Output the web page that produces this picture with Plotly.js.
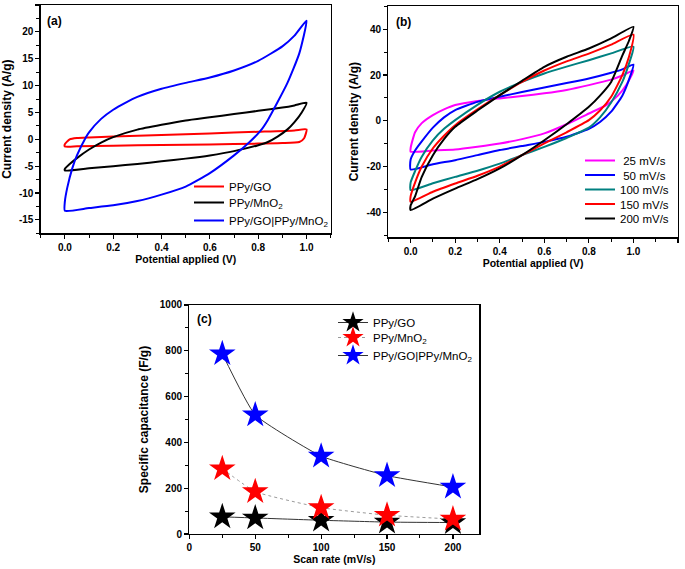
<!DOCTYPE html>
<html>
<head>
<meta charset="utf-8">
<script src="https://cdn.plot.ly/plotly-3.0.1.min.js"></script>
<style>html,body{margin:0;padding:0;background:#fff;}#chart{width:685px;height:569px;}</style>
</head>
<body>
<div id="chart"></div>
<script>
// ---------- Panel (a): CV of three electrodes ----------
const aNames = ["PPy/GO", "PPy/MnO<sub>2</sub>", "PPy/GO|PPy/MnO<sub>2</sub>"];
const aGO_V = [0, 0.02, 0.05, 0.1, 0.2, 0.4, 0.6, 0.8, 0.95, 1.0, 0.99, 0.97, 0.9, 0.8, 0.6, 0.4, 0.2, 0.05, 0, 0];
const aGO_I = [-0.9, 0.0, 0.25, 0.35, 0.5, 0.8, 1.1, 1.4, 1.65, 1.85, 0.2, -0.5, -0.7, -0.8, -0.95, -1.05, -1.2, -1.3, -1.35, -0.9];
const aMn_V = [0, 0.02, 0.05, 0.1, 0.15, 0.2, 0.3, 0.4, 0.5, 0.6, 0.7, 0.8, 0.9, 0.95, 1.0, 0.98, 0.95, 0.92, 0.88, 0.84, 0.8, 0.7, 0.6, 0.5, 0.4, 0.3, 0.2, 0.1, 0.0, 0];
const aMn_I = [-5.5, -4.6, -3.5, -1.9, -0.6, 0.4, 1.8, 2.7, 3.5, 4.1, 4.7, 5.3, 5.9, 6.3, 6.8, 5.0, 3.2, 1.8, 0.5, -0.5, -1.1, -2.2, -3.0, -3.6, -4.1, -4.6, -5.0, -5.4, -5.8, -5.5];
const aHy_V = [0, 0.01, 0.03, 0.05, 0.086, 0.1, 0.15, 0.2, 0.25, 0.3, 0.4, 0.5, 0.6, 0.7, 0.8, 0.9, 0.95, 1.0, 0.97, 0.92, 0.84, 0.81, 0.76, 0.7, 0.6, 0.5, 0.4, 0.3, 0.2, 0.1, 0.0, 0];
const aHy_I = [-11.6, -9.0, -5.5, -3.0, 0.3, 1.3, 3.8, 5.5, 6.8, 7.9, 9.4, 10.5, 11.5, 12.8, 14.6, 17.3, 19.3, 22.1, 16.0, 10.4, 3.6, 1.6, -0.7, -3.0, -6.3, -8.8, -10.3, -11.5, -12.3, -12.8, -13.3, -11.6];

// ---------- Panel (b): CV of hybrid at different scan rates ----------
const bNames = [" 25 mV/s", " 50 mV/s", "100 mV/s", "150 mV/s", "200 mV/s"];
const b25_V = [0, 0.01, 0.02, 0.05, 0.1, 0.15, 0.2, 0.3, 0.4, 0.5, 0.6, 0.7, 0.8, 0.9, 0.95, 1.0, 0.97, 0.93, 0.88, 0.8, 0.7, 0.6, 0.5, 0.4, 0.3, 0.2, 0.1, 0.0, 0];
const b25_I = [-12, -8, -5, -1, 2.5, 5, 6.9, 8.7, 9.8, 10.8, 12, 13.5, 15.6, 18, 19.8, 22, 16, 11, 7, 3.2, -1.5, -5.5, -8, -9.9, -11.3, -12.5, -13, -13.5, -12];
const b50_V = [0, 0.02, 0.05, 0.1, 0.15, 0.2, 0.3, 0.4, 0.5, 0.6, 0.7, 0.8, 0.9, 0.95, 1.0, 0.98, 0.95, 0.9, 0.85, 0.8, 0.7, 0.6, 0.5, 0.4, 0.3, 0.2, 0.1, 0.0, 0];
const b50_I = [-17, -13, -9, -3, 1.5, 4.7, 8.3, 10.5, 12.6, 14.6, 16.5, 18.5, 21, 22.5, 24.6, 18, 11, 4, -0.5, -3.5, -7, -9.2, -11, -12.8, -15, -17.2, -19, -21.3, -17];
const b100_V = [0, 0.02, 0.05, 0.1, 0.15, 0.2, 0.3, 0.4, 0.5, 0.6, 0.7, 0.8, 0.9, 1.0, 0.98, 0.95, 0.9, 0.85, 0.8, 0.7, 0.6, 0.5, 0.4, 0.3, 0.2, 0.1, 0.0, 0];
const b100_I = [-27, -22, -15.7, -8.5, -3.5, 0.3, 7, 12.7, 17, 20.7, 23.7, 26.5, 29.5, 32.4, 25, 17, 8, 1.5, -3, -7.5, -11.4, -15, -18.7, -21.8, -24.5, -27.3, -30.3, -27];
const b150_V = [0, 0.02, 0.05, 0.1, 0.15, 0.2, 0.3, 0.4, 0.5, 0.6, 0.7, 0.8, 0.9, 1.0, 0.98, 0.95, 0.9, 0.85, 0.8, 0.7, 0.6, 0.5, 0.4, 0.3, 0.2, 0.1, 0.0, 0];
const b150_I = [-33, -27, -20, -12, -6.5, -1.9, 5, 11.2, 17, 22, 26, 29.4, 33.3, 37.7, 28, 20, 10.5, 4.5, 0.3, -5, -9.9, -15, -20, -24, -27.4, -31, -35.4, -33];
const b200_V = [0, 0.02, 0.05, 0.1, 0.15, 0.2, 0.3, 0.4, 0.5, 0.6, 0.7, 0.8, 0.9, 1.0, 0.98, 0.95, 0.9, 0.85, 0.8, 0.7, 0.6, 0.5, 0.4, 0.3, 0.2, 0.1, 0.0, 0];
const b200_I = [-37, -33, -24.5, -15, -8, -2.6, 4.5, 11.2, 17.5, 23.6, 28, 31.6, 36, 41.1, 35, 28.5, 17, 11, 6.1, -1.5, -8.5, -15, -20.8, -25.5, -29.6, -34, -39, -37];

// ---------- Panel (c): specific capacitance vs scan rate ----------
const scanRates = [25, 50, 100, 150, 200];
const capGO = [75, 70, 60, 52, 50];
const capMnO2 = [285, 185, 115, 82, 65];
const capHybrid = [787, 520, 340, 255, 205];

// tick labels (hyphen minus as in the figure)
const aYTicks = [-15, -10, -5, 0, 5, 10, 15, 20, 25];
const bYTicks = [-40, -20, 0, 20, 40];
const aXTicks = [0.0, 0.2, 0.4, 0.6, 0.8, 1.0];
const bXTicks = [0.0, 0.2, 0.4, 0.6, 0.8, 1.0, 1.2];

const FONT = "Liberation Sans, Arial, sans-serif";
const tickFont = {family: FONT, size: 10, color: "#000", weight: "bold"};
const ytitleFont = {family: FONT, size: 12, color: "#000", weight: "bold"};
const xtitleFont = {family: FONT, size: 10.5, color: "#000", weight: "bold"};
const legFont = {family: FONT, size: 11.5, color: "#000"};

function baseAxis(extra) {
  return Object.assign({
    showgrid: false, zeroline: false, showline: true, linecolor: "#000", linewidth: 1.3,
    mirror: true, ticks: "outside", ticklen: 4, tickwidth: 1.2, tickcolor: "#000",
    tickfont: tickFont, fixedrange: true
  }, extra);
}
const minorStyle = {ticks: "outside", ticklen: 3, tickwidth: 1, tickcolor: "#000"};

const traces = [];
const legends = {};
let legCount = 0;
// one legend box per entry so each entry sits where the figure puts it
function addLegend(xLeft, yCenter, sizing) {
  legCount += 1;
  const id = legCount === 1 ? "legend" : "legend" + legCount;
  legends[id] = {x: xLeft / 685, y: 1 - (yCenter - 14) / 569, xanchor: "left", yanchor: "top",
    bgcolor: "rgba(0,0,0,0)", borderwidth: 0, font: legFont, itemsizing: sizing || "trace"};
  return id;
}

function cv(x, y, name, color, xa, ya, lx, ly) {
  traces.push({x: x, y: y, name: name, type: "scatter", mode: "lines",
    line: {color: color, width: 2, shape: "spline", smoothing: 0.5},
    xaxis: xa, yaxis: ya, legend: addLegend(lx, ly)});
}
cv(aGO_V, aGO_I, aNames[0], "#ff0000", "x", "y", 189, 186);
cv(aMn_V, aMn_I, aNames[1], "#000000", "x", "y", 189, 202);
cv(aHy_V, aHy_I, aNames[2], "#0000ff", "x", "y", 189, 220);

cv(b25_V, b25_I, bNames[0], "#ff00ff", "x2", "y2", 580, 160);
cv(b50_V, b50_I, bNames[1], "#0000ff", "x2", "y2", 580, 174.5);
cv(b100_V, b100_I, bNames[2], "#008080", "x2", "y2", 580, 189);
cv(b150_V, b150_I, bNames[3], "#ff0000", "x2", "y2", 580, 203.5);
cv(b200_V, b200_I, bNames[4], "#000000", "x2", "y2", 580, 218);

function cap(y, name, color, lineColor, dash, ly) {
  traces.push({x: scanRates, y: y, name: name, type: "scatter", mode: "lines+markers",
    line: {color: lineColor, width: 1, dash: dash, shape: "spline", smoothing: 0.4},
    marker: {symbol: "star", size: 20, color: color, line: {width: 0}},
    xaxis: "x3", yaxis: "y3", legend: addLegend(333, ly)});
}
cap(capGO, "PPy/GO", "#000000", "#333333", "solid", 322);
cap(capMnO2, "PPy/MnO<sub>2</sub>", "#ff0000", "#9a9a9a", "dot", 337);
cap(capHybrid, "PPy/GO|PPy/MnO<sub>2</sub>", "#0000ff", "#333333", "solid", 355);

const layout = Object.assign({
  width: 685, height: 569,
  margin: {l: 0, r: 0, t: 0, b: 0},
  paper_bgcolor: "#fff", plot_bgcolor: "#fff",
  font: {family: FONT, color: "#000"},
  showlegend: true,
  xaxis: baseAxis({domain: [0.0594, 0.4828], range: [-0.1, 1.1], anchor: "y",
    tickmode: "array", tickvals: aXTicks, ticktext: aXTicks.map(v => v.toFixed(1)),
    minor: Object.assign({tickmode: "array", tickvals: [-0.1, 0.1, 0.3, 0.5, 0.7, 0.9, 1.1]}, minorStyle),
    title: {text: "Potential applied (V)", font: xtitleFont, standoff: 3}}),
  yaxis: baseAxis({domain: [0.5900, 0.9912], range: [-17.5, 25], anchor: "x",
    tickmode: "array", tickvals: aYTicks, ticktext: aYTicks.map(String),
    minor: Object.assign({tickmode: "array", tickvals: [-17.5, -12.5, -7.5, -2.5, 2.5, 7.5, 12.5, 17.5, 22.5]}, minorStyle),
    title: {text: "Current density (A/g)", font: ytitleFont, standoff: 6}}),
  xaxis2: baseAxis({domain: [0.5669, 0.9898], range: [-0.1, 1.2], anchor: "y2",
    tickmode: "array", tickvals: bXTicks, ticktext: bXTicks.map(v => v.toFixed(1)),
    minor: Object.assign({tickmode: "array", tickvals: [-0.1, 0.1, 0.3, 0.5, 0.7, 0.9, 1.1]}, minorStyle),
    title: {text: "Potential applied (V)", font: xtitleFont, standoff: 3}}),
  yaxis2: baseAxis({domain: [0.5830, 0.9895], range: [-50.9, 50.2], anchor: "x2",
    tickmode: "array", tickvals: bYTicks, ticktext: bYTicks.map(String),
    minor: Object.assign({tickmode: "array", tickvals: [-50, -30, -10, 10, 30, 50]}, minorStyle),
    title: {text: "Current density (A/g)", font: ytitleFont, standoff: 5}}),
  xaxis3: baseAxis({domain: [0.2764, 0.6997], range: [0, 220], anchor: "y3",
    tickmode: "linear", tick0: 0, dtick: 50,
    minor: Object.assign({dtick: 25}, minorStyle),
    title: {text: "Scan rate (mV/s)", font: xtitleFont, standoff: 3}}),
  yaxis3: baseAxis({domain: [0.0615, 0.4640], range: [0, 1000], anchor: "x3",
    tickmode: "linear", tick0: 0, dtick: 200,
    minor: Object.assign({dtick: 100}, minorStyle),
    title: {text: "Specific capacitance (F/g)", font: ytitleFont, standoff: 8}}),
  annotations: [
    {text: "(a)", x: 45/685, y: 1 - 21/569, xref: "paper", yref: "paper", xanchor: "left", yanchor: "middle", showarrow: false, font: {family: FONT, size: 12, weight: "bold", color: "#000"}},
    {text: "(b)", x: 394/685, y: 1 - 22/569, xref: "paper", yref: "paper", xanchor: "left", yanchor: "middle", showarrow: false, font: {family: FONT, size: 12, weight: "bold", color: "#000"}},
    {text: "(c)", x: 195/685, y: 1 - 319/569, xref: "paper", yref: "paper", xanchor: "left", yanchor: "middle", showarrow: false, font: {family: FONT, size: 12, weight: "bold", color: "#000"}}
  ]
}, legends);

Plotly.newPlot("chart", traces, layout, {staticPlot: true, displayModeBar: false});
</script>
</body>
</html>
